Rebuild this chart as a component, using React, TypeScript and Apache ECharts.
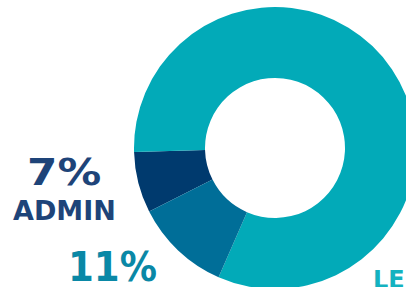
import React, { useEffect, useRef } from "react";
import * as echarts from "echarts";

const categories = ["ADMIN", "LE", ""];
const values = [7, 82, 11];
const colors = ["#003A6E", "#02AAB8", "#006E98"];

export default function App() {
  const ref = useRef<HTMLDivElement>(null);
  useEffect(() => {
    document.body.style.margin = "0";
    const chart = echarts.init(ref.current!, null, { renderer: "svg" });
    const total = values.reduce((a, b) => a + b, 0);
    const pct = values.map((v) => Math.round((v / total) * 100));
    chart.setOption({
      animation: false,
      series: [
        {
          type: "pie",
          center: [275, 148],
          radius: [70, 141],
          startAngle: 206.8,
          clockwise: true,
          label: { show: false },
          labelLine: { show: false },
          emphasis: { disabled: true },
          itemStyle: { borderWidth: 0 },
          data: categories.map((c, i) => ({
            name: c,
            value: values[i],
            itemStyle: { color: colors[i] },
          })),
        },
      ],
      graphic: [
        {
          type: "text",
          x: 27,
          y: 172,
          scaleX: 1.15,
          style: {
            text: `${pct[0]}%`,
            font: "bold 38px 'DejaVu Sans'",
            fill: "#1E4479",
            verticalAlign: "middle",
            align: "left",
          },
        },
        {
          type: "text",
          x: 13,
          y: 210,
          style: {
            text: categories[0],
            font: "bold 27px 'DejaVu Sans'",
            fill: "#1E4479",
            verticalAlign: "middle",
            align: "left",
          },
        },
        {
          type: "text",
          x: 68,
          y: 267,
          scaleX: 0.93,
          style: {
            text: `${pct[2]}%`,
            font: "bold 40px 'DejaVu Sans'",
            lineHeight: 32,
            fill: "#0A88A6",
            verticalAlign: "middle",
            align: "left",
          },
        },
        {
          type: "text",
          x: 373,
          y: 280,
          style: {
            text: categories[1],
            font: "bold 24px 'DejaVu Sans'",
            lineHeight: 14,
            fill: "#14B2C0",
            verticalAlign: "middle",
            align: "left",
          },
        },
      ],
    });
    return () => chart.dispose();
  }, []);
  return <div ref={ref} style={{ width: 406, height: 287 }} />;
}
